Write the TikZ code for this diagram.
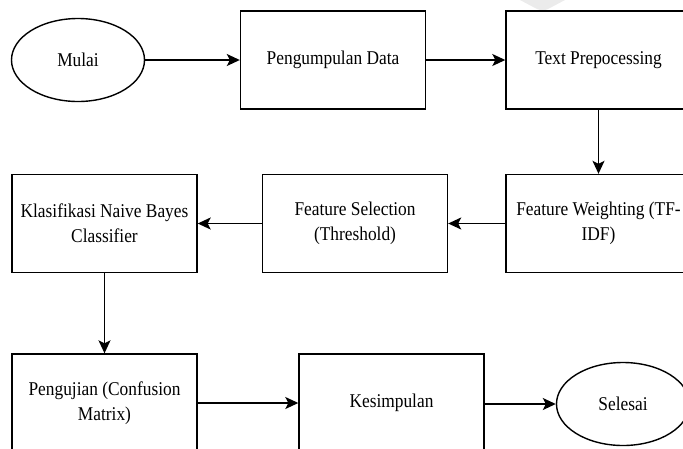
\documentclass[tikz,border=0pt]{standalone}
\usepackage{fontspec}
\setmainfont[FakeStretch=0.89]{Liberation Serif}
\usetikzlibrary{shapes.geometric,arrows.meta}

\begin{document}
\begin{tikzpicture}[x=1pt,y=-1pt,
  every node/.style={font=\fontsize{19.5}{25}\selectfont, align=center, inner sep=0pt},
  stepbox/.style={draw, line width=1.4pt, minimum width=185pt, minimum height=98pt},
  terminal/.style={draw, ellipse, line width=1.4pt, minimum width=133pt, minimum height=83pt},
  flow/.style={line width=1.4pt, -{Stealth[length=13pt,width=12pt,inset=3pt]}}
]
\useasboundingbox (0,0) rectangle (683,448);
\clip (0,0) rectangle (683,448);

% faint mark at the top edge
\fill[black!8] (520,0) -- (565,0) .. controls (556,5) .. (548,9) .. controls (543,11) .. (537,9) .. controls (528,5) .. cycle;

% first row
\node[terminal] (mulai)  at (78,60)    {Mulai};
\node[stepbox]  (data)   at (333,60)   {Pengumpulan Data};
\node[stepbox]  (prep)   at (598.5,60) {Text Prepocessing};

% second row
\node[stepbox]  (weight) at (598.5,223.5) {Feature Weighting (TF-\\IDF)};
\node[stepbox]  (select) at (355,223.5)   {Feature Selection\\(Threshold)};
\node[stepbox]  (klas)   at (104.5,223.5) {Klasifikasi Naive Bayes\\Classifier};

% third row
\node[stepbox]  (uji)     at (104.5,403) {Pengujian (Confusion\\Matrix)};
\node[stepbox]  (simpul)  at (391.5,403) {Kesimpulan};
\node[terminal] (selesai) at (623,404)   {Selesai};

% connectors
\draw[flow] (mulai) -- (data);
\draw[flow] (data) -- (prep);
\draw[flow] (prep) -- (weight);
\draw[flow] (weight) -- (select);
\draw[flow] (select) -- (klas);
\draw[flow] (klas) -- (uji);
\draw[flow] (uji.east |- simpul.west) -- (simpul.west);
\draw[flow] (simpul.east |- selesai.west) -- (selesai.west);
\end{tikzpicture}
\end{document}
